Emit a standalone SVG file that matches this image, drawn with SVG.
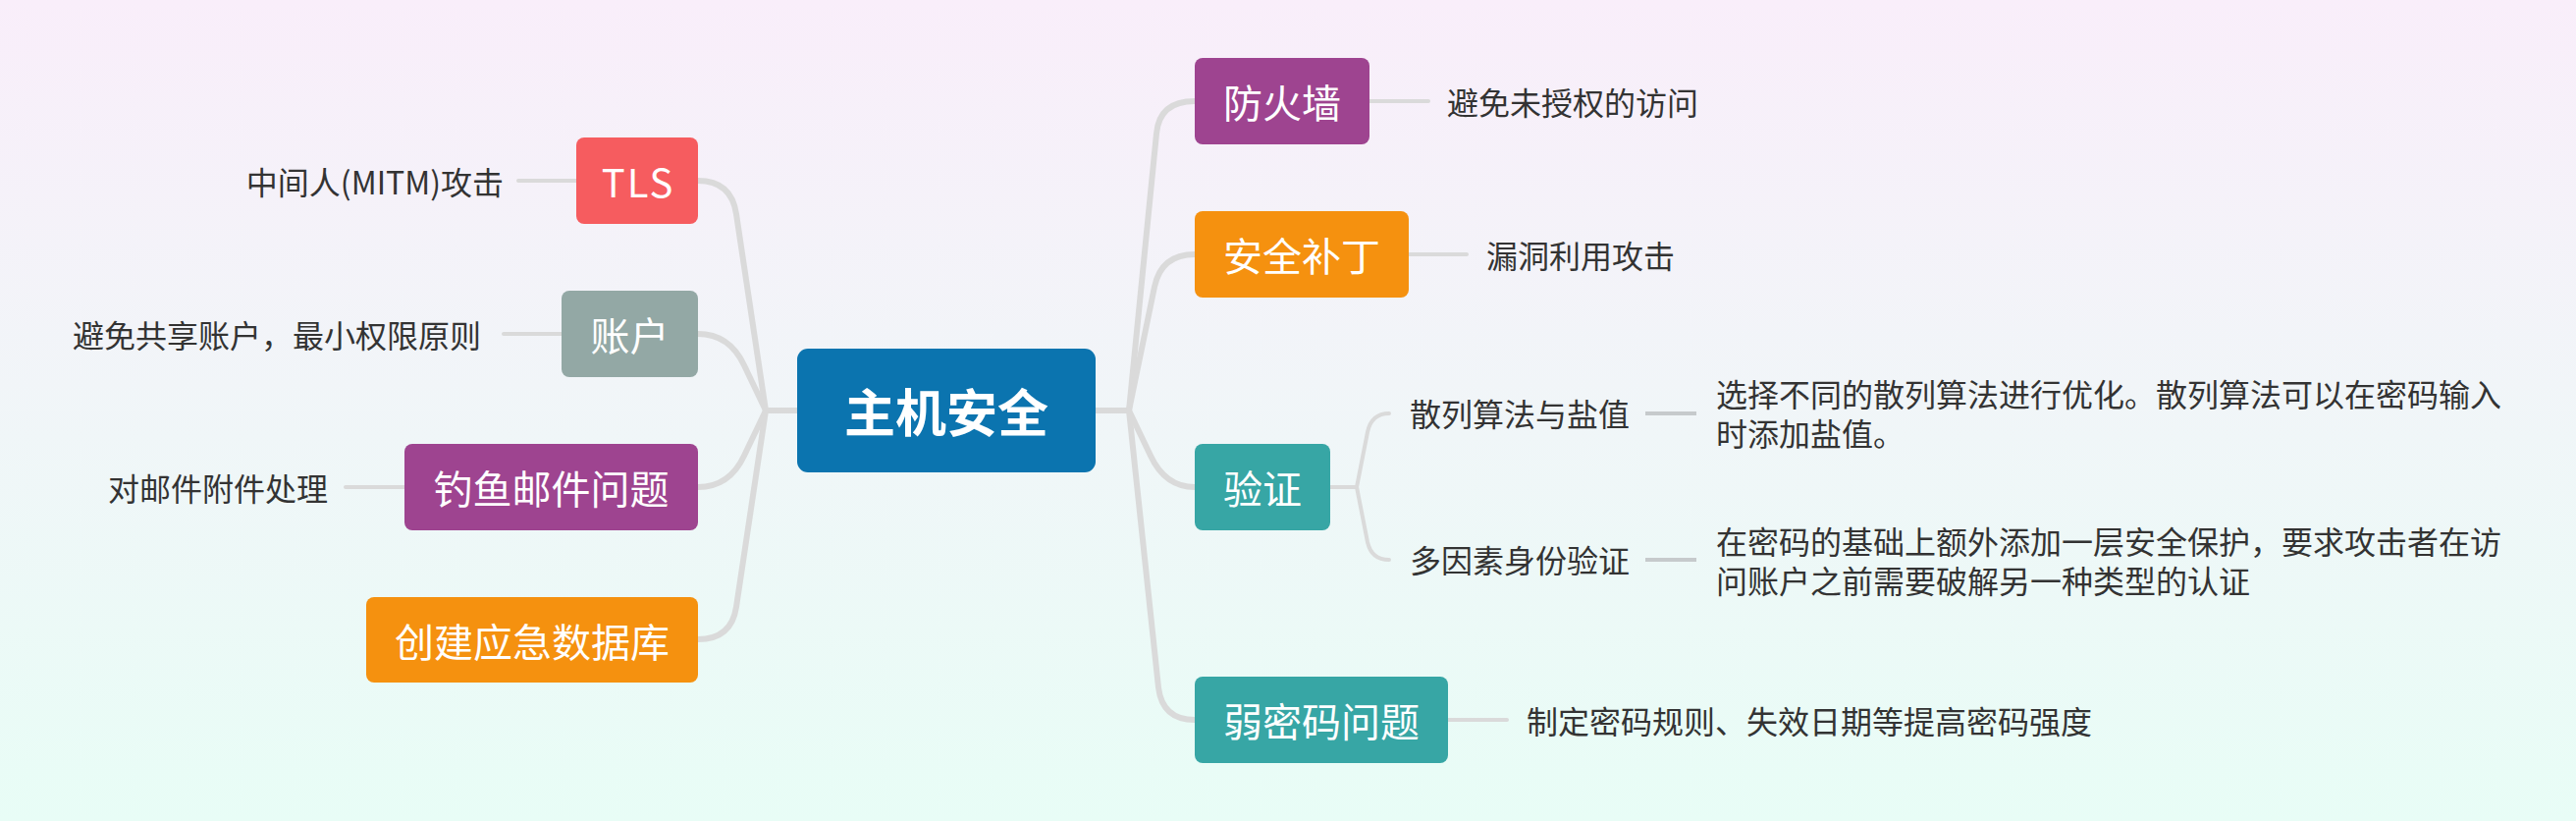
<svg xmlns="http://www.w3.org/2000/svg" width="2624" height="836" viewBox="0 0 2624 836">
<defs>
<linearGradient id="bg" x1="0" y1="0" x2="0" y2="1">
<stop offset="0" stop-color="#F9EEFA"/>
<stop offset="1" stop-color="#E8FDF6"/>
</linearGradient>
<style>
text{font-family:"Noto Sans CJK SC","Noto Sans",sans-serif;dominant-baseline:central}
.main{font-size:52px;font-weight:bold;fill:#fff;text-anchor:middle}
.topic{font-size:40px;fill:#fff;text-anchor:middle}
.lbl{font-size:32px;fill:#333}
.end{text-anchor:end}
.br{fill:none;stroke:#DADADA;stroke-width:6;stroke-linecap:round;stroke-linejoin:round}
.sb{fill:none;stroke:#DADADA;stroke-width:4;stroke-linecap:round;stroke-linejoin:round}
.dk{fill:none;stroke:#C6CACC;stroke-width:4}
</style>
</defs>
<rect width="2624" height="836" fill="url(#bg)"/>
<g id="connectors">
<path class="br" d="M813 418 H780"/>
<path class="br" d="M780 418 L750 218 Q745 184 711 184"/>
<path class="br" d="M780 418 L758 372 Q743 340 711 340"/>
<path class="br" d="M780 418 L758 464 Q743 496 711 496"/>
<path class="br" d="M780 418 L750 618 Q745 651 711 651"/>
<path class="br" d="M1115 418 H1150"/>
<path class="br" d="M1150 418 L1178 136 Q1181 103 1217 103"/>
<path class="br" d="M1150 418 L1176 292 Q1183 259 1217 259"/>
<path class="br" d="M1150 418 L1172 464 Q1187 496 1217 496"/>
<path class="br" d="M1150 418 L1180 700 Q1184 733 1217 733"/>
<path class="sb" d="M1355 496 H1382"/>
<path class="sb" d="M1382 496 L1393 440 Q1397 421 1415 421"/>
<path class="sb" d="M1382 496 L1393 552 Q1397 570 1415 570"/>
<path class="sb" d="M528 184 H587"/>
<path class="sb" d="M513 340 H572"/>
<path class="sb" d="M352 496 H412"/>
<path class="sb" d="M1395 103 H1455"/>
<path class="sb" d="M1435 259 H1494"/>
<path class="sb" d="M1475 733 H1535"/>
<path class="dk" d="M1676 421 H1728"/>
<path class="dk" d="M1676 570 H1728"/>
</g>
<g id="root">
<rect x="812" y="355" width="304" height="126" rx="11" fill="#0B74AF"/>
<text class="main" x="964" y="417">主机安全</text>
</g>
<g id="tls">
<rect x="587" y="140" width="124" height="88" rx="8" fill="#F65C5F"/>
<text class="topic" x="650" y="184" letter-spacing="2">TLS</text>
<text class="lbl end" x="513" y="184">中间人(MITM)攻击</text>
</g>
<g id="account">
<rect x="572" y="296" width="139" height="88" rx="8" fill="#93A8A5"/>
<text class="topic" x="641.5" y="340">账户</text>
<text class="lbl end" x="490" y="340">避免共享账户，最小权限原则</text>
</g>
<g id="phishing">
<rect x="412" y="452" width="299" height="88" rx="8" fill="#9E4490"/>
<text class="topic" x="561.5" y="496">钓鱼邮件问题</text>
<text class="lbl end" x="334" y="496">对邮件附件处理</text>
</g>
<g id="emergency-db">
<rect x="373" y="608" width="338" height="87" rx="8" fill="#F5910F"/>
<text class="topic" x="542" y="651.5">创建应急数据库</text>
</g>
<g id="firewall">
<rect x="1217" y="59" width="178" height="88" rx="8" fill="#9E4490"/>
<text class="topic" x="1306" y="103">防火墙</text>
<text class="lbl" x="1474" y="103">避免未授权的访问</text>
</g>
<g id="patch">
<rect x="1217" y="215" width="218" height="88" rx="8" fill="#F5910F"/>
<text class="topic" x="1326" y="259">安全补丁</text>
<text class="lbl" x="1514" y="259">漏洞利用攻击</text>
</g>
<g id="auth">
<rect x="1217" y="452" width="138" height="88" rx="8" fill="#37A6A5"/>
<text class="topic" x="1286" y="496">验证</text>
</g>
<g id="hash">
<text class="lbl" x="1436" y="420">散列算法与盐值</text>
<text class="lbl"><tspan x="1748" y="400">选择不同的散列算法进行优化。散列算法可以在密码输入</tspan><tspan x="1748" y="440">时添加盐值。</tspan></text>
</g>
<g id="mfa">
<text class="lbl" x="1436" y="569">多因素身份验证</text>
<text class="lbl"><tspan x="1748" y="550">在密码的基础上额外添加一层安全保护，要求攻击者在访</tspan><tspan x="1748" y="590">问账户之前需要破解另一种类型的认证</tspan></text>
</g>
<g id="weak-password">
<rect x="1217" y="689" width="258" height="88" rx="8" fill="#37A6A5"/>
<text class="topic" x="1346" y="733">弱密码问题</text>
<text class="lbl" x="1555" y="733">制定密码规则、失效日期等提高密码强度</text>
</g>
</svg>
